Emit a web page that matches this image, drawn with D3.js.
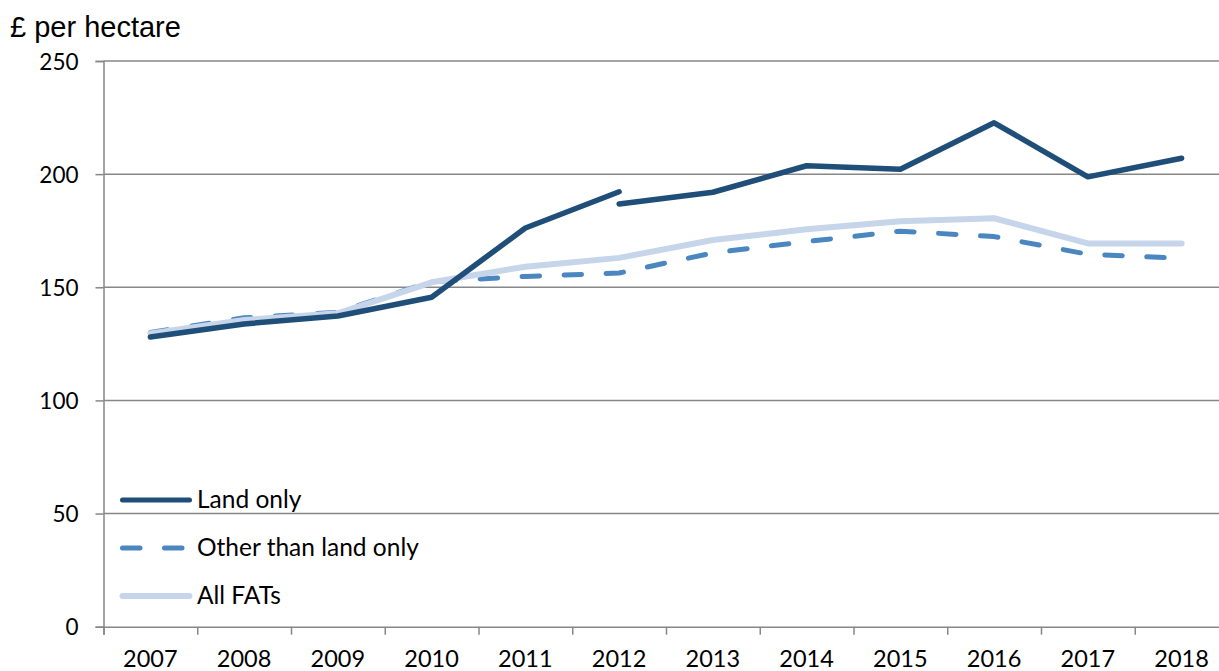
<!DOCTYPE html>
<html>
<head>
<meta charset="utf-8">
<script src="https://cdn.jsdelivr.net/npm/d3@7"></script>
<style>
  html, body { margin: 0; padding: 0; background: #fff; }
  svg { display: block; }
</style>
</head>
<body>
<svg id="chart" width="1219" height="671"></svg>
<script>
// Average rent, £ per hectare, by tenancy type
const years = ["2007","2008","2009","2010","2011","2012","2013","2014","2015","2016","2017","2018"];

// Land only series has a break in 2012 (two estimates for that year)
const landOnlyEarlyYears = ["2007","2008","2009","2010","2011","2012"];
const landOnlyEarly = [128.0, 133.8, 137.3, 145.6, 176.2, 192.2];
const landOnlyLateYears = ["2012","2013","2014","2015","2016","2017","2018"];
const landOnlyLate = [186.8, 192.0, 203.7, 202.2, 222.7, 198.8, 207.0];

const otherThanLand = [130.0, 136.5, 139.0, 152.5, 154.8, 156.3, 165.2, 170.2, 174.8, 172.4, 164.6, 162.8];
const allFATs = [129.6, 135.5, 138.5, 152.2, 159.1, 163.0, 170.9, 175.6, 179.2, 180.5, 169.4, 169.4];

const yTicks = [0, 50, 100, 150, 200, 250];
const legendLabels = ["Land only", "Other than land only", "All FATs"];

const colors = { land: "#1f4e79", other: "#4a86c0", all: "#c6d5e9" };
const gridColor = "#878787";

const svg = d3.select("#chart");

const plotLeft = 103.5, plotRight = 1228.5, plotTop = 61, plotBottom = 626.7;

const x = d3.scaleBand().domain(years).range([plotLeft, plotRight]).padding(0);
const xc = d => x(d) + x.bandwidth() / 2;
const y = d3.scaleLinear().domain([0, 250]).range([plotBottom, plotTop]);

// Horizontal gridlines
svg.append("g")
  .selectAll("line")
  .data(yTicks.filter(v => v > 0))
  .join("line")
  .attr("x1", plotLeft).attr("x2", 1219)
  .attr("y1", d => y(d)).attr("y2", d => y(d))
  .attr("stroke", gridColor).attr("stroke-width", 1.5);

// Y axis
const yAxis = svg.append("g")
  .attr("transform", `translate(${plotLeft},0)`)
  .call(d3.axisLeft(y).tickValues(yTicks).tickSize(8).tickPadding(17).tickFormat(d3.format("d")));
yAxis.select(".domain").attr("stroke", gridColor).attr("stroke-width", 1.5);
yAxis.selectAll(".tick line").attr("stroke", gridColor).attr("stroke-width", 1.5);
yAxis.selectAll(".tick text")
  .attr("font-family", "Lato, sans-serif")
  .attr("font-size", 22.5)
  .attr("fill", "#000")
  .attr("dy", "0.36em");

// X axis: boundary ticks between categories, labels centred in each band
const bounds = d3.scaleLinear().domain([0, years.length]).range([plotLeft, plotRight]);
const xTickAxis = svg.append("g")
  .attr("transform", `translate(0,${plotBottom})`)
  .call(d3.axisBottom(bounds).tickValues(d3.range(0, years.length + 1)).tickSize(8).tickFormat(""));
xTickAxis.select(".domain").attr("stroke", gridColor).attr("stroke-width", 1.5);
xTickAxis.selectAll(".tick line").attr("stroke", gridColor).attr("stroke-width", 1.5);

const xLabelAxis = svg.append("g")
  .attr("transform", `translate(0,${plotBottom})`)
  .call(d3.axisBottom(x).tickSize(0).tickPadding(24));
xLabelAxis.select(".domain").remove();
xLabelAxis.selectAll(".tick text")
  .attr("font-family", "Lato, sans-serif")
  .attr("font-size", 23.5)
  .attr("fill", "#000");

// Lines
const line = d3.line().x(d => xc(d[0])).y(d => y(d[1]));

function drawSeries(pairs, color, width, dash) {
  const p = svg.append("path")
    .datum(pairs)
    .attr("d", line)
    .attr("fill", "none")
    .attr("stroke", color)
    .attr("stroke-width", width)
    .attr("stroke-linecap", "round")
    .attr("stroke-linejoin", "round");
  if (dash) p.attr("stroke-dasharray", dash);
  return p;
}

drawSeries(years.map((yr, i) => [yr, otherThanLand[i]]), colors.other, 5, "17.5,24.5");
drawSeries(years.map((yr, i) => [yr, allFATs[i]]), colors.all, 6);
drawSeries(landOnlyEarlyYears.map((yr, i) => [yr, landOnlyEarly[i]]), colors.land, 5.5);
drawSeries(landOnlyLateYears.map((yr, i) => [yr, landOnlyLate[i]]), colors.land, 5.5);

// Y axis title
svg.append("text")
  .attr("x", 10).attr("y", 37)
  .attr("font-family", "Liberation Sans, Arial, sans-serif")
  .attr("font-size", 29)
  .attr("fill", "#000")
  .text("£ per hectare");

// Legend
const legendItems = [
  { label: legendLabels[0], color: colors.land, width: 5, dash: null },
  { label: legendLabels[1], color: colors.other, width: 5, dash: "17.5,24.5" },
  { label: legendLabels[2], color: colors.all, width: 6, dash: null }
];
const legend = svg.append("g");
legendItems.forEach((item, i) => {
  const ly = 500 + i * 48;
  const l = legend.append("line")
    .attr("x1", 122.5).attr("x2", 189.5)
    .attr("y1", ly).attr("y2", ly)
    .attr("stroke", item.color)
    .attr("stroke-width", item.width)
    .attr("stroke-linecap", "round");
  if (item.dash) l.attr("stroke-dasharray", item.dash);
  legend.append("text")
    .attr("x", 197).attr("y", ly + 8)
    .attr("font-family", "Lato, sans-serif")
    .attr("font-size", 24.5)
    .attr("fill", "#000")
    .text(item.label);
});
</script>
</body>
</html>
